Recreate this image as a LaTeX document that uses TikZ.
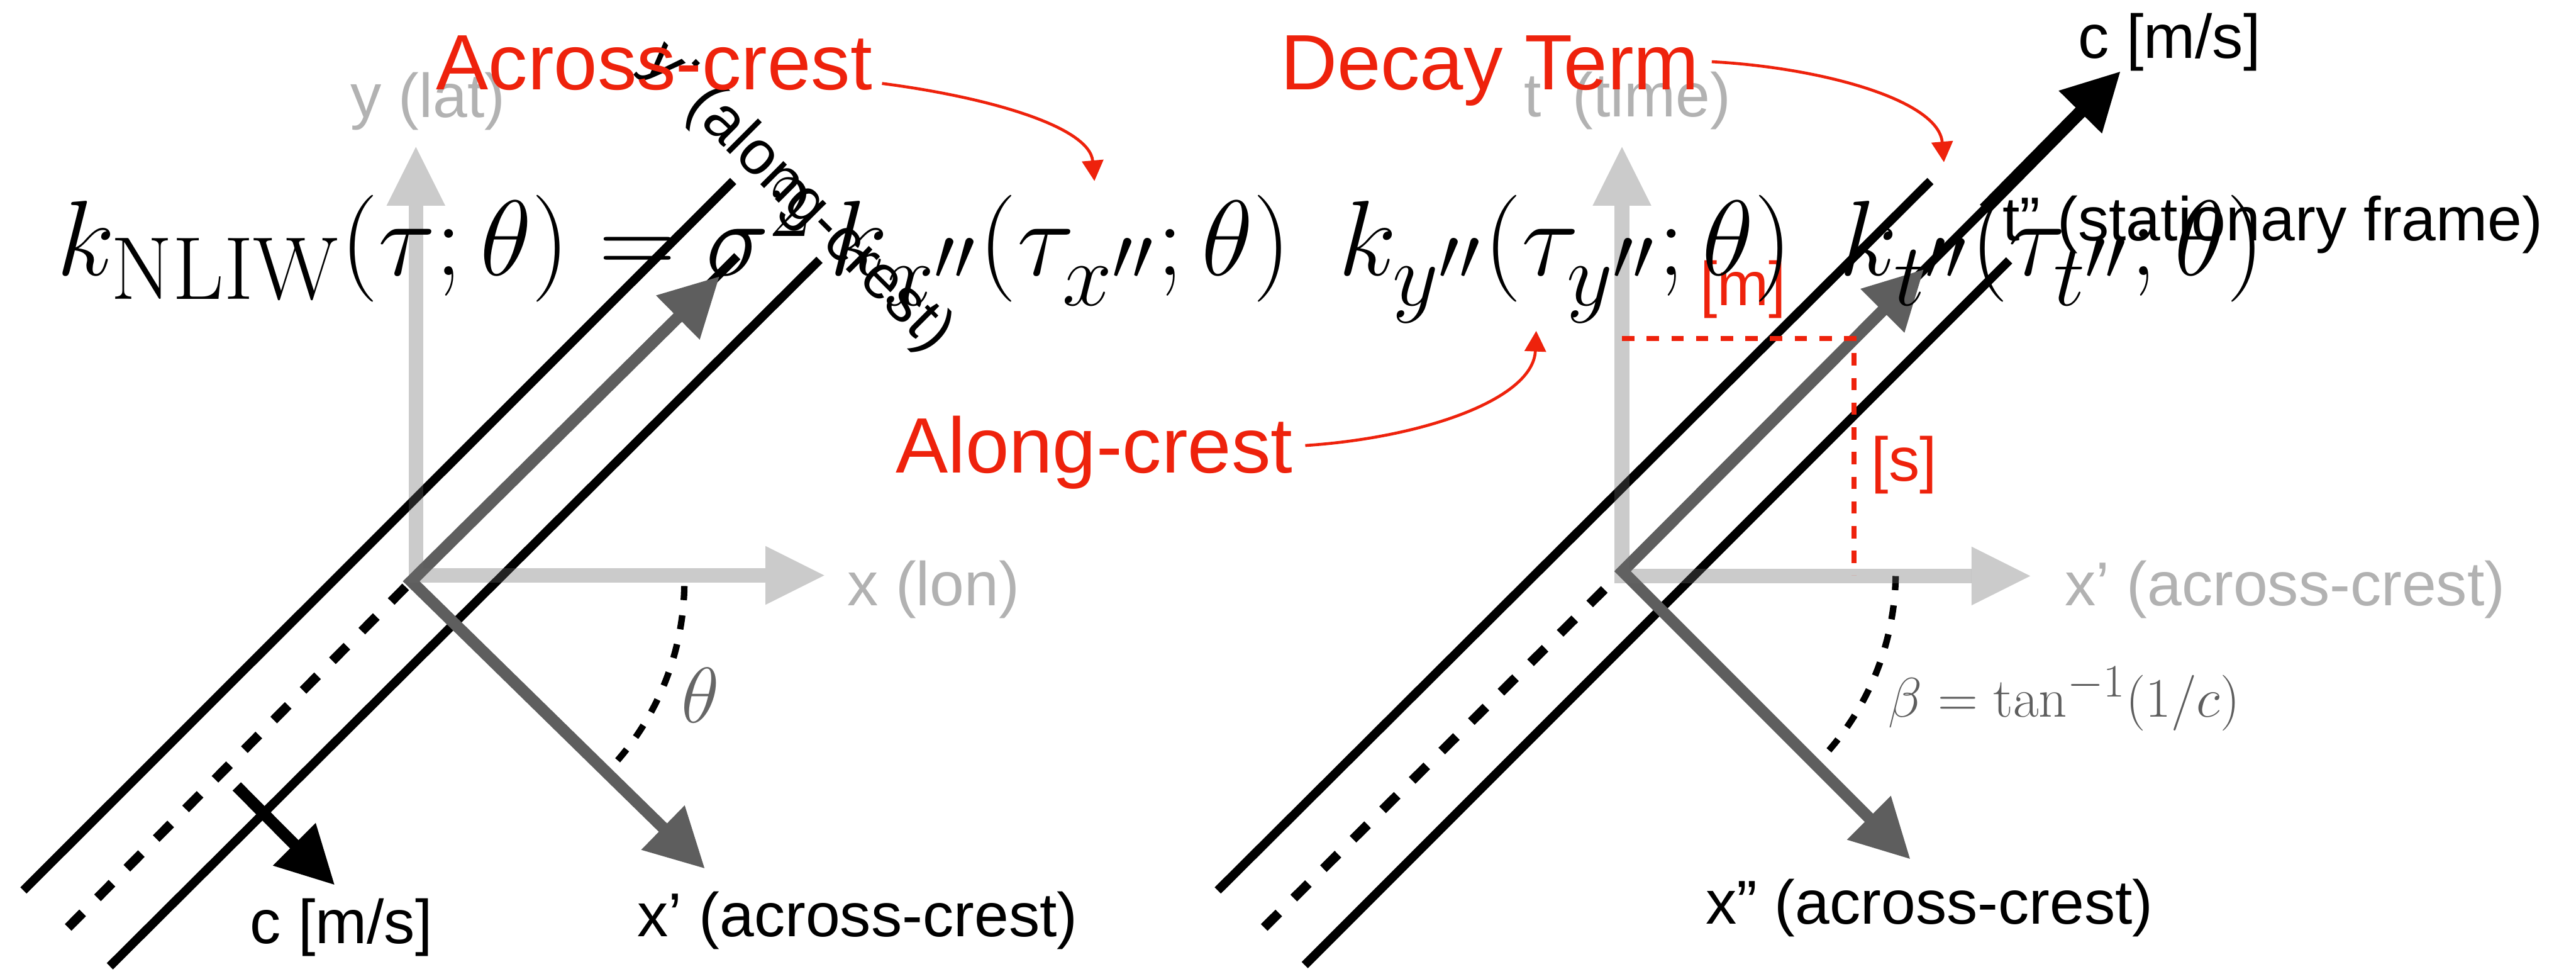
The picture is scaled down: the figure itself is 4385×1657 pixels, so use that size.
\documentclass[tikz,border=0pt]{standalone}
\usepackage{fontspec}
\usetikzlibrary{arrows.meta}
\newfontfamily\helv{Liberation Sans}
\definecolor{axisgray}{RGB}{104,104,104}
\definecolor{labelgray}{RGB}{178,178,178}
\definecolor{arrowgray}{RGB}{94,94,94}
\definecolor{symgray}{RGB}{102,102,102}
\definecolor{keyred}{RGB}{238,34,12}

\begin{document}
\begin{tikzpicture}[x=0.1mm, y=-0.1mm,
  crest/.style={line width=1.5mm},
  crestdash/.style={line width=1.6mm, dash pattern=on 3.5mm off 3.6mm},
  axisline/.style={draw=axisgray, opacity=.34, line width=2.5mm, line join=miter,
    {Triangle[length=10mm,width=10mm,line width=0pt]}-{Triangle[length=10mm,width=10mm,line width=0pt]}},
  waveaxis/.style={draw=arrowgray, line width=2mm, line join=miter,
    {Triangle[length=10mm,width=10mm]}-{Triangle[length=10mm,width=10mm]}},
  speed/.style={line width=2mm, -{Triangle[length=9.8mm,width=9.7mm]}},
  anglearc/.style={line width=1.1mm, dash pattern=on 2.4mm off 2.6mm},
  unitline/.style={draw=keyred, line width=.9mm, dash pattern=on 2.1mm off 2.1mm},
  callout/.style={draw=keyred, line width=.5mm, -{Triangle[length=3.5mm,width=3.6mm]}},
  lab/.style={font=\helv\fontsize{30}{36}\selectfont, inner sep=0pt, anchor=base west},
  axlab/.style={lab, text=labelgray},
  redlab/.style={lab, text=keyred, font=\helv\fontsize{38}{46}\selectfont},
  mathlab/.style={font=\Huge, inner sep=0pt},
  eqn/.style={mathlab, scale=2.08, anchor=base west}]
  \useasboundingbox (0,0) rectangle (4385,1657);
  \fill[white] (0,0) rectangle (4385,1657);

  % left panel: lon/lat frame
  \coordinate (lo) at (700,989);
  \coordinate (lalong) at (1225,470);
  \coordinate (lacross) at (1200,1478);
  \coordinate (lax) at (708,979);
  \draw[crest] (40,1515) -- (1248,308);
  \draw[crest] (187,1644) -- (1395,442);
  \draw[crestdash] (116,1578) -- (lo);
  \draw[crest] (lo) -- (1255,436);
  \draw[waveaxis] (lalong) -- (lo) -- (lacross);
  \draw[speed] (403,1338) -- (570,1506);
  \draw[anglearc] (lo) ++(1:465) arc[start angle=1, end angle=43, radius=465];
  \draw[axisline] (708,250) -- (lax) -- (1403,979);

  % right panel: across-crest/time frame
  \coordinate (ro) at (2762,972);
  \coordinate (ralong) at (3275,458);
  \coordinate (racross) at (3252,1462);
  \coordinate (rax) at (2761,980);
  \draw[crest] (2073,1515) -- (3286,308);
  \draw[crest] (2221,1642) -- (3420,443);
  \draw[crestdash] (2152,1578) -- (ro);
  \draw[crest] (ro) -- (3385,349);
  \draw[speed, line width=2.2mm] (3378,356) -- (3610,121);
  \draw[waveaxis] (ralong) -- (ro) -- (racross);
  \draw[anglearc] (ro) ++(1:465) arc[start angle=1, end angle=42, radius=465];
  \draw[axisline] (2761,250) -- (rax) -- (3456,980);
  \draw[unitline] (2761,576) -- (3156,576) -- (3156,979);

  % labels
  \node[axlab] (ylab) at (596,200) {y (lat)};
  \node[axlab] (xlab) at (1442,1030) {x (lon)};
  \node[lab] (xplab) at (1084,1594) {x’ (across-crest)};
  \node[lab] (clab) at (425,1605) {c [m/s]};
  \node[lab, anchor=center, rotate=-45] (alonglab) at (1357,337) {y’ (along-crest)};
  \node[mathlab, scale=1.53, text=symgray] (thetalab) at (1192,1183) {$\theta$};
  \node[axlab] (tlab) at (2594,199) {t’ (time)};
  \node[axlab] (xprlab) at (3514,1030) {x’ (across-crest)};
  \node[lab] (xpplab) at (2903,1572) {x” (across-crest)};
  \node[lab] (crlab) at (3537,99) {c [m/s]};
  \node[lab] (framelab) at (3408,409) {t” (stationary frame)};
  \node[mathlab, scale=1.085, text=arrowgray, anchor=base west] (betalab) at (3214,1220) {$\beta=\tan^{-1}(1/c)$};
  \node[lab, text=keyred] (mlab) at (2893,520) {[m]};
  \node[lab, text=keyred] (slab) at (3185,818) {[s]};

  % kernel
  \node[eqn] (kernel) at (95,468) {$k_{\mathrm{NLIW}}(\tau;\theta) = \sigma^2\, k_{x''}(\tau_{x''};\theta)\mkern8mu k_{y''}(\tau_{y''};\theta)\mkern8mu k_{t''}(\tau_{t''};\theta)$};

  % callouts
  \coordinate (tipx) at (1863,308);
  \coordinate (tipy) at (2615,563);
  \coordinate (tipt) at (3309,276);
  \node[redlab] (acrosslab) at (742,153) {Across-crest};
  \node[redlab] (alongredlab) at (1524,805) {Along-crest};
  \node[redlab] (decaylab) at (2179,153) {Decay Term};
  \draw[callout] ([shift={(16,-11)}]acrosslab.base east) .. controls (1680,165) and (1855,215) .. (tipx);
  \draw[callout] ([shift={(21,-47)}]alongredlab.base east) .. controls (2420,745) and (2610,680) .. (tipy);
  \draw[callout] ([shift={(21,-48)}]decaylab.base east) .. controls (3100,115) and (3300,170) .. (tipt);
\end{tikzpicture}
\end{document}
